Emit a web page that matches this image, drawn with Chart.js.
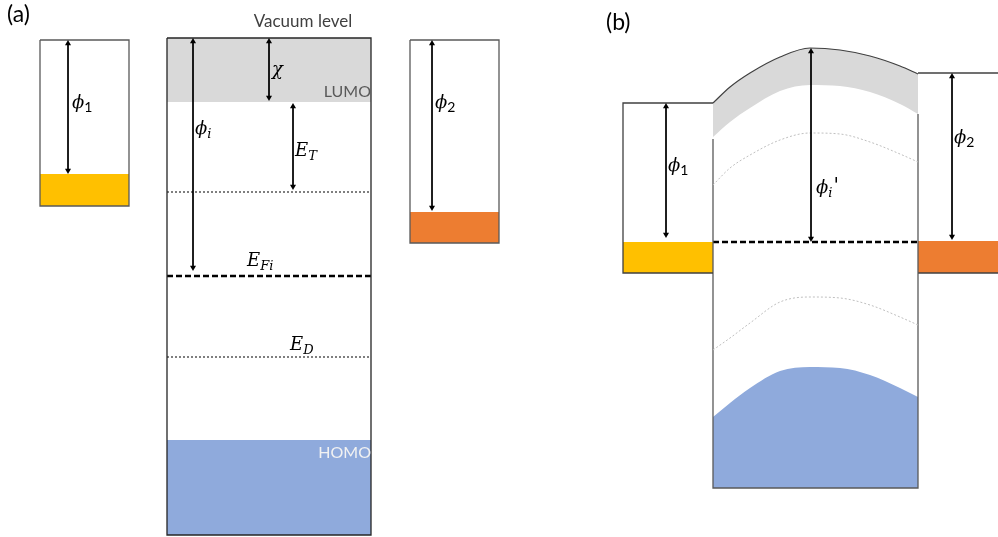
<!DOCTYPE html>
<html>
<head>
<meta charset="utf-8">
<script src="https://cdn.jsdelivr.net/npm/chart.js@4.4.0/dist/chart.umd.min.js"></script>
<style>
  html, body { margin: 0; padding: 0; background: #fff; }
  #wrap { width: 998px; height: 537px; position: relative; }
</style>
</head>
<body>
<div id="wrap"><canvas id="diagram"></canvas></div>
<script>
// Energy levels (units = picture pixels, y grows downward)

// panel (a): isolated metal 1 / organic / metal 2
const metal1SpanA = [40, 129];
const metal1LevelsA = [40, 174, 206];          // vacuum, Fermi, bottom
const organicSpanA = [167, 371];
const organicLevelsA = [38, 102, 192, 276, 357, 440, 535]; // vacuum, LUMO, E_T, E_Fi, E_D, HOMO, bottom
const metal2SpanA = [410, 499];
const metal2LevelsA = [40, 212, 243];

// panel (b): contact, bands bent
const metal1SpanB = [623, 713];
const metal1LevelsB = [103, 242, 273];
const metal2SpanB = [918, 998];
const metal2LevelsB = [73, 241, 273];
const organicSpanB = [713, 918];
const fermiB = 242;
const bottomB = 488;
const bendX   = [713, 730, 750, 780, 810, 840, 870, 900, 918];
const vacuumB = [103,  87,  73,  57,  48,  50,  56,  66,  74];
const lumoB   = [137, 122, 108,  91,  85,  86,  92, 104, 114];
const trapB   = [185, 168, 155, 140, 133, 134, 142, 154, 162];
const donorB  = [350, 338, 323, 302, 297, 298, 305, 317, 325];
const homoB   = [417, 403, 388, 371, 367, 368, 375, 388, 397];

// arrows: [x, top, bottom]
const arrowsA = [[68, 40, 174], [193, 38, 271], [269, 38, 101], [293, 103, 190], [432, 40, 211]];
const arrowsB = [[666, 103, 238], [811, 48, 242], [952, 73, 240]];

const HEAD = 3.5;

function band(xs, top, bottom, color) {
    return {
        data: [{ x: xs[0], y: top }, { x: xs[1], y: top }],
        fill: { value: bottom }, backgroundColor: color,
        borderWidth: 0, pointRadius: 0, order: 9
    };
}

function path(points, color, width, dash) {
    return {
        data: points.map(p => ({ x: p[0], y: p[1] })),
        borderColor: color, borderWidth: width, borderDash: dash || [],
        fill: false, pointRadius: 0, order: 4
    };
}

function hline(xs, y, color, width, dash) {
    return path([[xs[0], y], [xs[1], y]], color, width, dash);
}

function box(xs, top, bottom, color, width) {
    return path([[xs[0], top], [xs[1], top], [xs[1], bottom], [xs[0], bottom], [xs[0], top]], color, width);
}

function curve(ys, extra) {
    return Object.assign({
        data: bendX.map((x, i) => ({ x: x, y: ys[i] })),
        cubicInterpolationMode: 'monotone',
        pointRadius: 0, fill: false
    }, extra);
}

function arrow(a) {
    const [x, y0, y1] = a;
    return {
        data: [{ x: x, y: y0 + HEAD }, { x: x, y: y1 - HEAD }],
        borderColor: '#000', borderWidth: 1, fill: false,
        pointStyle: 'triangle', pointRadius: HEAD, pointRotation: [0, 180],
        pointBackgroundColor: '#000', pointBorderWidth: 0, order: 1
    };
}

const datasets = [
    // panel (a)
    band(organicSpanA, organicLevelsA[0], organicLevelsA[1], '#D9D9D9'),
    band(organicSpanA, organicLevelsA[5], organicLevelsA[6], '#8FAADC'),
    band(metal1SpanA, metal1LevelsA[1], metal1LevelsA[2], '#FFC000'),
    band(metal2SpanA, metal2LevelsA[1], metal2LevelsA[2], '#ED7D31'),
    box(metal1SpanA, metal1LevelsA[0], metal1LevelsA[2], '#595959', 1.3),
    box(metal2SpanA, metal2LevelsA[0], metal2LevelsA[2], '#595959', 1.3),
    box(organicSpanA, organicLevelsA[0], organicLevelsA[6], '#262626', 1.3),
    hline(organicSpanA, organicLevelsA[2], '#7F7F7F', 2, [2, 2]),
    hline([organicSpanA[0], organicSpanA[1] + 2], organicLevelsA[3], '#000', 2.5, [6, 3]),
    hline(organicSpanA, organicLevelsA[4], '#7F7F7F', 2, [2, 2]),

    // panel (b)
    band(metal1SpanB, metal1LevelsB[1], metal1LevelsB[2], '#FFC000'),
    band(metal2SpanB, metal2LevelsB[1], metal2LevelsB[2], '#ED7D31'),
    curve(vacuumB, { borderColor: '#404040', borderWidth: 1.2, fill: '+1', backgroundColor: '#D9D9D9', order: 3 }),
    curve(lumoB, { borderWidth: 0, order: 3 }),
    curve(trapB, { borderColor: '#BFBFBF', borderWidth: 1, borderDash: [2, 2], order: 4 }),
    curve(donorB, { borderColor: '#BFBFBF', borderWidth: 1, borderDash: [2, 2], order: 4 }),
    curve(homoB, { borderWidth: 0, fill: { value: bottomB }, backgroundColor: '#8FAADC', order: 8 }),
    path([[metal1SpanB[1], metal1LevelsB[0]], [metal1SpanB[0], metal1LevelsB[0]],
          [metal1SpanB[0], metal1LevelsB[2]], [metal1SpanB[1], metal1LevelsB[2]]], '#404040', 1.3),
    path([[organicSpanB[0], lumoB[0] + 2], [organicSpanB[0], bottomB],
          [organicSpanB[1], bottomB], [organicSpanB[1], lumoB[lumoB.length - 1]]], '#595959', 1.3),
    hline(metal2SpanB, metal2LevelsB[0], '#404040', 1.3),
    hline(metal2SpanB, metal2LevelsB[2], '#404040', 1.3),
    hline(organicSpanB, fermiB, '#000', 2.5, [6, 3]),

    ...arrowsA.map(arrow),
    ...arrowsB.map(arrow)
];

// text labels, placed in picture units
const SERIF = '"DejaVu Serif"';
const SANS = 'Lato';
const textLabels = [
    { text: '(a)', x: 7, y: 22, font: '23px ' + SANS, color: '#000' },
    { text: '(b)', x: 606, y: 30, font: '23px ' + SANS, color: '#000' },
    { text: 'Vacuum level', x: 303, y: 27, font: '17px ' + SANS, color: '#404040', align: 'center' },
    { text: 'LUMO', x: 371, y: 97, font: '16px ' + SANS, color: '#595959', align: 'right' },
    { text: 'HOMO', x: 371, y: 458, font: '16px ' + SANS, color: '#F2F2F2', align: 'right' }
];
const mathLabels = [
    { main: 'ϕ', sub: '1', x: 72, y: 108, subItalic: false },
    { main: 'ϕ', sub: 'i', x: 195, y: 134, subItalic: true },
    { main: 'χ', sub: '', x: 272, y: 75 },
    { main: 'E', sub: 'T', x: 295, y: 156, subItalic: true },
    { main: 'E', sub: 'Fi', x: 247, y: 266, subItalic: true },
    { main: 'E', sub: 'D', x: 290, y: 350, subItalic: true },
    { main: 'ϕ', sub: '2', x: 435, y: 108, subItalic: false },
    { main: 'ϕ', sub: '1', x: 668, y: 171, subItalic: false },
    { main: 'ϕ', sub: 'i', x: 816, y: 193, subItalic: true, prime: true },
    { main: 'ϕ', sub: '2', x: 954, y: 143, subItalic: false }
];

const labelPlugin = {
    id: 'labels',
    afterDraw(chart) {
        const { ctx, scales: { x, y } } = chart;
        ctx.save();
        ctx.textBaseline = 'alphabetic';
        textLabels.forEach(l => {
            ctx.font = l.font;
            ctx.fillStyle = l.color;
            ctx.textAlign = l.align || 'left';
            ctx.fillText(l.text, x.getPixelForValue(l.x), y.getPixelForValue(l.y));
        });
        ctx.textAlign = 'left';
        ctx.fillStyle = '#000';
        mathLabels.forEach(l => {
            const px = x.getPixelForValue(l.x);
            const py = y.getPixelForValue(l.y);
            ctx.font = 'italic 18px ' + SERIF;
            ctx.fillText(l.main, px, py);
            let w = ctx.measureText(l.main).width;
            if (l.sub) {
                ctx.font = l.subItalic ? 'italic 13px ' + SERIF : '14px ' + SANS;
                ctx.fillText(l.sub, px + w, py + 4);
                w += ctx.measureText(l.sub).width;
            }
            if (l.prime) {
                ctx.font = 'italic 20px ' + SERIF;
                ctx.fillText("'", px + w + 1, py - 1);
            }
        });
        ctx.restore();
    }
};

new Chart(document.getElementById('diagram'), {
    type: 'line',
    data: { datasets: datasets },
    options: {
        responsive: true,
        maintainAspectRatio: false,
        animation: false,
        events: [],
        layout: { padding: 0, autoPadding: false },
        scales: {
            x: { type: 'linear', min: 0, max: 998, display: false },
            y: { type: 'linear', min: 0, max: 537, reverse: true, display: false }
        },
        plugins: { legend: { display: false }, tooltip: { enabled: false } }
    },
    plugins: [labelPlugin]
});
</script>
</body>
</html>
